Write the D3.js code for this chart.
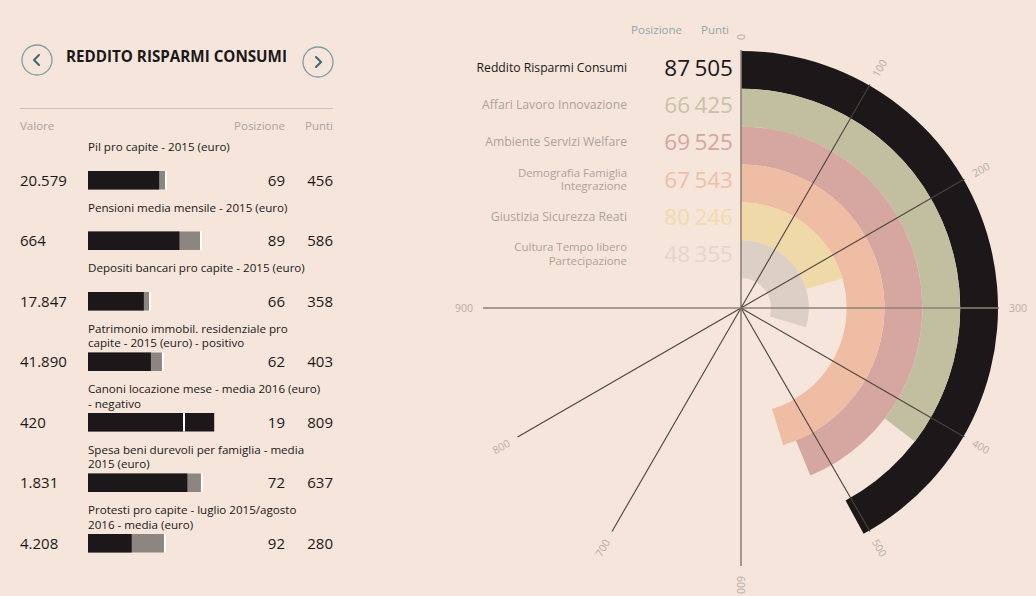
<!DOCTYPE html>
<html>
<head>
<meta charset="utf-8">
<script src="https://cdn.jsdelivr.net/npm/d3@7"></script>
<style>
  html, body { margin: 0; padding: 0; background: #f5e5da; }
  svg { display: block; font-family: "Open Sans", "Noto Sans", sans-serif; }
</style>
</head>
<body>
<svg id="chart" width="1036" height="596"></svg>
<script>
// ---- Indicatori (pannello sinistro) ----
const indicatorLabels = [
  ["Pil pro capite - 2015 (euro)"],
  ["Pensioni media mensile - 2015 (euro)"],
  ["Depositi bancari pro capite - 2015 (euro)"],
  ["Patrimonio immobil. residenziale pro", "capite - 2015 (euro) - positivo"],
  ["Canoni locazione mese - media 2016 (euro)", "- negativo"],
  ["Spesa beni durevoli per famiglia - media", "2015 (euro)"],
  ["Protesti pro capite - luglio 2015/agosto", "2016 - media (euro)"]
];
const indicatorValues = ["20.579", "664", "17.847", "41.890", "420", "1.831", "4.208"];
const indicatorPositions = [69, 89, 66, 62, 19, 72, 92];
const indicatorPoints = [456, 586, 358, 403, 809, 637, 280];
const indicatorReference = [494, 718, 391, 474, 609, 724, 487];

// ---- Categorie (grafico radiale) ----
const categories = [
  ["Reddito Risparmi Consumi"],
  ["Affari Lavoro Innovazione"],
  ["Ambiente Servizi Welfare"],
  ["Demografia Famiglia", "Integrazione"],
  ["Giustizia Sicurezza Reati"],
  ["Cultura Tempo libero", "Partecipazione"]
];
const categoryPositions = [87, 66, 69, 67, 80, 48];
const categoryPoints = [505, 425, 525, 543, 246, 355];
const categoryColors = ["#1c1819", "#c2bfa0", "#d6a7a1", "#efbda3", "#f0d9a8", "#dcd0c6"];
const categoryTextColors = ["#1c1819", "#c7c3a9", "#d6a4a1", "#f0bfa6", "#f2dcab", "#e3d7cd"];
const spokeTicks = [0, 100, 200, 300, 400, 500, 600, 700, 800, 900];

const svg = d3.select("#chart");

// ================= Pannello sinistro =================
const left = svg.append("g");

// pulsanti di navigazione
const navButtons = [{cx: 37, cy: 60, dir: -1}, {cx: 318, cy: 62, dir: 1}];
navButtons.forEach(b => {
  left.append("circle").attr("cx", b.cx).attr("cy", b.cy).attr("r", 15)
    .attr("fill", "none").attr("stroke", "#7f9ca2").attr("stroke-width", 1.3);
  left.append("path")
    .attr("d", `M${b.cx - b.dir * 2},${b.cy - 5} L${b.cx + b.dir * 3},${b.cy} L${b.cx - b.dir * 2},${b.cy + 5}`)
    .attr("fill", "none").attr("stroke", "#3f6874").attr("stroke-width", 2)
    .attr("stroke-linecap", "round").attr("stroke-linejoin", "round");
});

left.append("text").attr("x", 66).attr("y", 62)
  .attr("font-size", 15.2).attr("font-weight", 700).attr("fill", "#1c1819")
  .text("REDDITO RISPARMI CONSUMI");

left.append("line").attr("x1", 20).attr("x2", 333).attr("y1", 108.5).attr("y2", 108.5)
  .attr("stroke", "#cbbfb5").attr("stroke-width", 1);

const headColor = "#aaa4a0";
left.append("text").attr("x", 20).attr("y", 130).attr("font-size", 11.5).attr("fill", headColor).text("Valore");
left.append("text").attr("x", 285).attr("y", 130).attr("font-size", 11.5).attr("fill", headColor)
  .attr("text-anchor", "end").text("Posizione");
left.append("text").attr("x", 333).attr("y", 130).attr("font-size", 11.5).attr("fill", headColor)
  .attr("text-anchor", "end").text("Punti");

const rowY = d3.scaleLinear().domain([0, 1]).range([171, 231.5]);
const barX = d3.scaleLinear().domain([0, 1000]).range([88, 244]);
const barH = 18.5;

indicatorLabels.forEach((lines, i) => {
  const top = rowY(i);
  const g = left.append("g");
  lines.forEach((ln, j) => {
    g.append("text").attr("x", 88).attr("y", top - 20 + j * 14.5)
      .attr("font-size", 11.6).attr("fill", "#1c1819").text(ln);
  });
  g.append("text").attr("x", 20).attr("y", top + barH / 2 + 5.5)
    .attr("font-size", 15).attr("fill", "#1c1819").text(indicatorValues[i]);
  g.append("rect").attr("x", barX(0)).attr("y", top)
    .attr("width", barX(indicatorReference[i]) - barX(0)).attr("height", barH).attr("fill", "#8d8580");
  g.append("rect").attr("x", barX(0)).attr("y", top)
    .attr("width", barX(indicatorPoints[i]) - barX(0)).attr("height", barH).attr("fill", "#1c1819");
  g.append("rect").attr("x", barX(indicatorReference[i])).attr("y", top)
    .attr("width", 2).attr("height", barH).attr("fill", "#ffffff");
  g.append("text").attr("x", 285).attr("y", top + barH / 2 + 5.5).attr("text-anchor", "end")
    .attr("font-size", 15).attr("fill", "#1c1819").text(indicatorPositions[i]);
  g.append("text").attr("x", 333).attr("y", top + barH / 2 + 5.5).attr("text-anchor", "end")
    .attr("font-size", 15).attr("fill", "#1c1819").text(indicatorPoints[i]);
});

// ================= Grafico radiale =================
const cx = 741, cy = 308;
const spokeR = 258, labelR = 268;
const angle = d3.scaleLinear().domain([0, 1200]).range([0, 2 * Math.PI]);
const radius = d3.scaleBand().domain(d3.range(categories.length)).range([257, 30]);
const arc = d3.arc();

const radial = svg.append("g").attr("transform", `translate(${cx},${cy})`);

radial.selectAll("path.band").data(categoryPoints).join("path")
  .attr("class", "band")
  .attr("fill", (d, i) => categoryColors[i])
  .attr("d", (d, i) => arc({
    innerRadius: radius(i),
    outerRadius: radius(i) + radius.bandwidth(),
    startAngle: 0,
    endAngle: angle(d)
  }));

// raggi della scala
const deg = v => angle(v) * 180 / Math.PI;
const straight = v => deg(v) % 90 === 0;
radial.selectAll("line.spoke").data(spokeTicks).join("line")
  .attr("class", "spoke")
  .attr("x1", 0).attr("y1", 0)
  .attr("x2", d => spokeR * Math.sin(angle(d)))
  .attr("y2", d => -spokeR * Math.cos(angle(d)))
  .attr("stroke", d => straight(d) ? "#8e8178" : "#4d423c")
  .attr("stroke-width", d => straight(d) ? 1.6 : 1.1);

radial.selectAll("text.tick").data(spokeTicks).join("text")
  .attr("class", "tick")
  .attr("font-size", 10.5).attr("fill", "#b8aea6")
  .attr("dominant-baseline", "central")
  .attr("text-anchor", d => deg(d) > 180 ? "end" : "start")
  .attr("transform", d => `rotate(${deg(d) - 90}) translate(${labelR},0)` + (deg(d) > 180 ? " rotate(180)" : ""))
  .text(d => d);

// ---- legenda delle categorie ----
const legend = svg.append("g");
legend.append("text").attr("x", 682).attr("y", 34).attr("text-anchor", "end")
  .attr("font-size", 11.5).attr("fill", "#93a7ae").text("Posizione");
legend.append("text").attr("x", 729).attr("y", 34).attr("text-anchor", "end")
  .attr("font-size", 11.5).attr("fill", "#93a7ae").text("Punti");

const legendY = d3.scaleLinear().domain([0, 1]).range([68, 105.2]);
categories.forEach((lines, i) => {
  const yc = legendY(i);
  const labelColor = i === 0 ? "#1c1819" : "#ada39c";
  const size = lines.length > 1 ? 11.4 : 12.2;
  lines.forEach((ln, j) => {
    const y = yc + (j - (lines.length - 1) / 2) * 13.5 + 4;
    legend.append("text").attr("x", 627).attr("y", y).attr("text-anchor", "end")
      .attr("font-size", size).attr("fill", labelColor).text(ln);
  });
  legend.append("text").attr("x", 690).attr("y", yc + 8).attr("text-anchor", "end")
    .attr("font-size", 22.5).attr("fill", categoryTextColors[i])
    .text(categoryPositions[i]);
  legend.append("text").attr("x", 733).attr("y", yc + 8).attr("text-anchor", "end")
    .attr("font-size", 22.5).attr("fill", categoryTextColors[i])
    .text(categoryPoints[i]);
});
</script>
</body>
</html>
